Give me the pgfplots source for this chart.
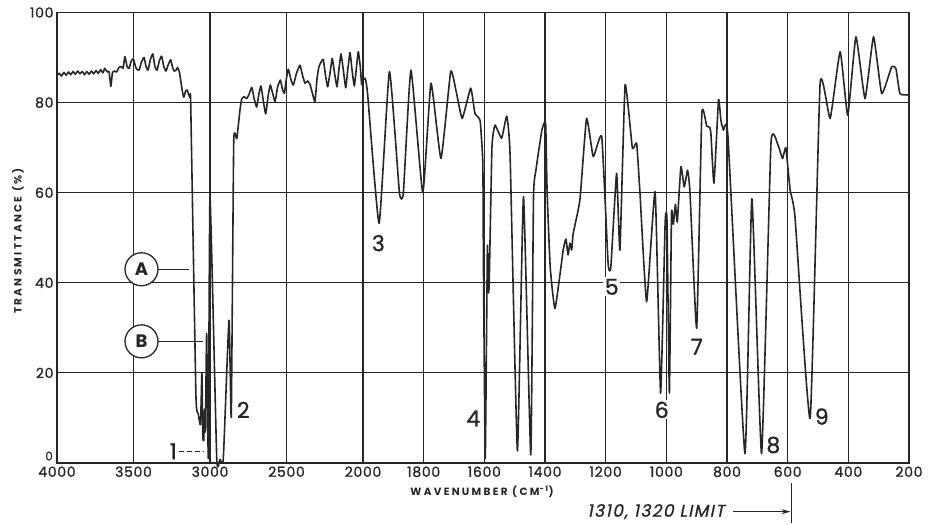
\documentclass[border=0pt]{standalone}
\usepackage{pgfplots}
\pgfplotsset{compat=1.18}
\usepackage{pgfplotstable}
\usetikzlibrary{arrows.meta}
\usepackage{fontspec}
\setmainfont{Poppins}
\newfontfamily\tickf[LetterSpace=5,FakeBold=1.2]{Poppins}
\newfontfamily\numf[FakeBold=1.0]{Poppins}
\newfontfamily\labf[LetterSpace=22]{Poppins}
\newfontfamily\limf[FakeSlant=0.2,LetterSpace=8,FakeBold=0.8]{Poppins}
\definecolor{ink}{HTML}{262626}

\pgfplotstableread{
w T
4000 86.0
3985 86.5
3970 85.9
3955 86.7
3940 86.1
3925 86.8
3910 86.2
3895 86.9
3880 86.3
3865 87.0
3850 86.4
3835 86.9
3820 86.2
3805 86.9
3790 86.3
3775 87.0
3760 86.4
3745 87.1
3730 86.5
3715 87.3
3700 86.6
3688 87.6
3672 86.8
3660 86.9
3648 83.6
3638 86.6
3625 87.0
3610 86.8
3595 87.8
3580 88.0
3568 87.6
3556 90.2
3542 88.0
3529 87.6
3515 89.2
3501 89.7
3483 87.6
3464 87.2
3448 89.0
3431 90.0
3418 88.0
3405 87.2
3390 89.5
3374 90.8
3360 88.0
3346 87.2
3331 89.3
3316 90.3
3302 88.0
3288 87.0
3272 88.5
3257 89.5
3246 88.0
3235 87.0
3222 87.2
3212 87.8
3200 86.8
3192 85.0
3182 82.8
3172 81.2
3160 82.5
3150 82.8
3140 81.8
3130 81.0
3126 79.5
3092 15.0
3077 11.0
3062 8.5
3053 19.9
3047 6.0
3041 5.0
3035 12.0
3030 7.0
3022 28.8
3011 1.0
3000 59.1
2956 1.0
2935 0.8
2913 1.0
2876 31.7
2861 10.3
2845 71.3
2825 72.0
2804 78.4
2793 80.8
2777 81.3
2760 80.9
2743 82.0
2727 83.4
2711 80.8
2695 79.0
2680 82.0
2667 83.7
2650 80.0
2636 77.5
2620 81.5
2606 83.9
2590 82.0
2575 80.2
2558 83.5
2540 85.0
2527 83.0
2514 82.1
2500 85.5
2488 87.4
2470 85.0
2455 83.9
2435 86.5
2412 88.3
2395 86.0
2379 84.3
2362 84.8
2346 84.0
2330 82.0
2314 80.2
2300 85.5
2288 88.0
2274 89.0
2260 89.6
2245 86.0
2231 83.5
2216 86.5
2201 89.8
2186 86.5
2170 83.5
2157 87.5
2144 90.8
2128 87.0
2113 83.3
2099 87.5
2085 91.1
2071 87.0
2057 83.7
2044 87.5
2031 91.3
2018 88.0
2009 84.0
2000 85.0
1993 85.4
1985 82.0
1947 53.2
1913 86.9
1880 60.0
1867 60.0
1842 87.2
1803 60.0
1776 84.3
1743 67.6
1711 86.9
1693 82.5
1673 76.5
1645 83.2
1631 77.6
1614 76.0
1605 66.5
1603 44.3
1597 1.0
1590 48.0
1587 38.0
1584 40.0
1575 70.0
1565 75.0
1543 72.1
1526 77.0
1515 68.0
1491 2.7
1471 59.1
1447 1.8
1438 59.0
1430 65.0
1410 74.0
1398 75.4
1393 60.0
1383 43.6
1367 34.3
1340 47.3
1331 49.7
1324 46.2
1318 48.8
1312 47.3
1307 51.0
1285 58.4
1263 76.5
1241 68.0
1213 72.4
1192 44.3
1183 43.5
1164 64.3
1153 47.3
1136 83.9
1112 69.9
1098 71.0
1087 60.0
1065 35.8
1037 60.2
1019 15.5
1004 53.2
998 54.0
990 15.5
983 55.4
977 53.0
970 57.4
964 53.5
952 65.8
941 61.3
930 65.0
922 60.0
900 29.9
883 77.6
867 74.8
857 74.5
853 73.0
843 62.1
828 80.6
820 76.0
812 73.9
797 72.6
741 2.1
718 58.7
686 2.1
655 71.0
632 70.6
617 67.6
606 70.0
592 60.6
576 54.7
526 9.9
493 84.3
460 76.5
427 91.3
402 77.2
375 94.6
345 80.9
317 94.6
290 82.0
257 88.0
243 87.5
230 82.0
205 81.7
200 81.5
}\spec

\begin{document}
\begin{tikzpicture}[declare function={xmap(\w)=0.153*(4000-max(\w,2000))+0.3033*(2000-min(\w,2000));}]
\begin{axis}[
  scale only axis, width=852pt, height=450.5pt,
  xmin=0, xmax=851.94, ymin=0, ymax=100,
  xtick={0,76.5,153,229.5,306,366.66,427.32,487.98,548.64,609.3,669.96,730.62,791.28,851.94},
  xticklabels={4000,3500,3000,2500,2000,1800,1600,1400,1200,1000,800,600,400,200},
  ytick={20,40,60,80,100},
  yticklabels={20,40,60,80,100},
  grid=major,
  major grid style={line width=1.1pt, color=ink},
  axis line style={line width=1.6pt, color=ink},
  major tick length=0pt,
  tick label style={font=\tickf\fontsize{14}{14}\selectfont, text=ink},
  clip=false,
]
\addplot[ink, line width=1.6pt, line join=round, smooth, tension=0.25] table[x expr={xmap(\thisrow{w})}, y=T] {\spec};

% zero label of the y axis, set just above the 4000 label
\node[text=ink, anchor=south east, inner sep=1pt, font=\tickf\fontsize{12}{12}\selectfont] at (axis cs:-3,0.3) {0};

% circled markers
\node[circle, draw=ink, line width=1.3pt, minimum size=33pt, inner sep=0pt, fill=white, text=ink, font=\bfseries\fontsize{18}{18}\selectfont] at (axis cs:84.5,43.0) {A};
\draw[ink, line width=1.2pt] (axis cs:101,43.0) -- (axis cs:132,43.0);
\node[circle, draw=ink, line width=1.3pt, minimum size=33pt, inner sep=0pt, fill=white, text=ink, font=\bfseries\fontsize{18}{18}\selectfont] at (axis cs:84.5,27.0) {B};
\draw[ink, line width=1.2pt] (axis cs:101,27.0) -- (axis cs:146,27.0);

% band numbers
\tikzset{bandno/.style={text=ink, inner sep=1.5pt, font=\numf\fontsize{22}{22}\selectfont}}
\node[bandno] at (axis cs:116.3,2.6) {1};
\draw[ink, line width=1.1pt, dash pattern=on 5pt off 3pt] (axis cs:122,2.6) -- (axis cs:147,2.6);
\node[bandno] at (axis cs:186.3,11.8) {2};
\node[bandno] at (axis cs:321.3,48.8) {3};
\node[bandno] at (axis cs:416.3,9.9) {4};
\node[bandno, fill=white] at (axis cs:554.7,39.1) {5};
\node[bandno, fill=white] at (axis cs:604.7,11.8) {6};
\node[bandno] at (axis cs:639.7,25.8) {7};
\node[bandno] at (axis cs:716.3,4.0) {8};
\node[bandno] at (axis cs:764.7,10.3) {9};

% axis titles
\node[text=ink, font=\labf\bfseries\fontsize{10.5}{12}\selectfont] at (axis cs:425,-6.4) {WAVENUMBER (CM\textsuperscript{-1})};
\node[text=ink, rotate=90, font=\labf\bfseries\fontsize{10.5}{12}\selectfont] at (axis cs:-39,49.3) {TRANSMITTANCE (\%)};

% limit note
\node[text=ink, anchor=east, font=\limf\fontsize{17}{17}\selectfont] at (axis cs:671,-10.8) {1310, 1320 LIMIT};
\draw[ink, line width=1.2pt, -{Stealth[length=9pt,width=5pt]}] (axis cs:676,-10.8) -- (axis cs:733.5,-10.8);
\draw[ink, line width=1.3pt] (axis cs:734.7,-4.4) -- (axis cs:734.7,-13.3);
\end{axis}
\pgfresetboundingbox
\path (current axis.south west) ++(-57pt,-62pt) rectangle ++(935pt,525pt);
\end{tikzpicture}
\end{document}
